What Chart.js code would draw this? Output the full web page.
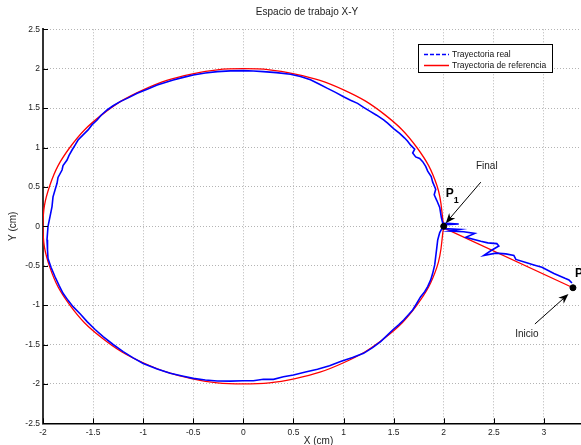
<!DOCTYPE html>
<html>
<head>
<meta charset="utf-8">
<script src="https://cdn.jsdelivr.net/npm/chart.js@4"></script>
<style>
  html, body { margin: 0; padding: 0; background: #fff; overflow: hidden; width: 581px; height: 445px; }
  canvas { display: block; }
</style>
</head>
<body>
<canvas id="myChart" width="599" height="452"></canvas>
<script>
// trayectoria real, empieza en P y termina en P1
const realX = [3.28, 3.25, 3.21, 3.10, 2.98, 2.90, 2.82, 2.72, 2.70, 2.62, 2.52, 2.40, 2.47, 2.55, 2.53, 2.44, 2.37, 2.22, 2.31, 2.20, 2.06, 2.16, 2.00, 2.02, 2.15, 1.99,
  1.975, 1.96, 1.93, 1.905, 1.92, 1.89, 1.875, 1.84, 1.82, 1.79, 1.76, 1.72, 1.69, 1.71, 1.67, 1.64, 1.61, 1.56, 1.50, 1.44, 1.40, 1.33, 1.27, 1.20, 1.14, 1.07, 1.00,
  0.92, 0.84, 0.75, 0.67, 0.57, 0.47, 0.33, 0.20, 0.10, 0.00, -0.13, -0.26, -0.38, -0.50, -0.60, -0.70, -0.86, -0.96, -1.06, -1.15, -1.23, -1.30, -1.36, -1.42,
  -1.46, -1.51, -1.55, -1.60, -1.65, -1.68, -1.71, -1.74, -1.76, -1.80, -1.81, -1.85, -1.86, -1.88, -1.90, -1.91, -1.93, -1.95, -1.96, -1.955, -1.95, -1.92,
  -1.88, -1.84, -1.80, -1.75, -1.70, -1.63, -1.56, -1.48, -1.40, -1.30, -1.20, -1.10, -1.00, -0.86, -0.73, -0.61, -0.50, -0.38, -0.26, -0.13, 0.00, 0.10,
  0.20, 0.30, 0.40, 0.50, 0.62, 0.74, 0.86, 0.97, 1.09, 1.20, 1.29, 1.37, 1.43, 1.49, 1.55, 1.60, 1.65, 1.69, 1.73, 1.77, 1.81, 1.84, 1.87, 1.89, 1.91, 1.92,
  1.93, 1.94, 1.96, 1.99]
const realY = [-0.72, -0.68, -0.66, -0.60, -0.52, -0.49, -0.46, -0.42, -0.37, -0.35, -0.34, -0.37, -0.31, -0.25, -0.22, -0.21, -0.19, -0.14, -0.09, -0.07, -0.06, -0.04, -0.03, 0.02, 0.03, 0.04,
  0.12, 0.24, 0.33, 0.40, 0.47, 0.56, 0.63, 0.70, 0.76, 0.82, 0.86, 0.88, 0.93, 0.98, 1.03, 1.08, 1.12, 1.18, 1.24, 1.31, 1.35, 1.41, 1.455, 1.51, 1.56, 1.60, 1.645,
  1.70, 1.75, 1.81, 1.86, 1.90, 1.93, 1.95, 1.963, 1.97, 1.976, 1.972, 1.963, 1.945, 1.921, 1.89, 1.857, 1.793, 1.74, 1.688, 1.63, 1.582, 1.53, 1.476, 1.41,
  1.349, 1.29, 1.223, 1.16, 1.095, 1.03, 0.968, 0.90, 0.841, 0.77, 0.714, 0.62, 0.545, 0.46, 0.374, 0.25, 0.122, 0.0, -0.17, -0.30, -0.41, -0.52,
  -0.64, -0.75, -0.85, -0.94, -1.02, -1.11, -1.21, -1.31, -1.40, -1.50, -1.59, -1.67, -1.74, -1.81, -1.866, -1.90, -1.93, -1.95, -1.963, -1.965, -1.96, -1.96,
  -1.942, -1.942, -1.91, -1.887, -1.85, -1.815, -1.77, -1.717, -1.665, -1.612, -1.54, -1.464, -1.39, -1.316, -1.25, -1.189, -1.12, -1.062, -0.98, -0.893, -0.83, -0.766, -0.68, -0.597, -0.49, -0.385,
  -0.28, -0.174, -0.08, -0.01]

// trayectoria de referencia: tramo recto P -> P1 y circulo de radio 2
const lineX = [3.29, 2.0]
const lineY = [-0.78, -0.02]
const refX = [2, 1.932, 1.732, 1.414, 1.0, 0.518, 0, -0.518, -1.0, -1.414, -1.732, -1.932, -2, -1.932, -1.732, -1.414, -1.0, -0.518, 0, 0.518, 1.0, 1.414, 1.732, 1.932, 2]
const refY = [0, 0.518, 1.0, 1.414, 1.732, 1.932, 2, 1.932, 1.732, 1.414, 1.0, 0.518, 0, -0.518, -1.0, -1.414, -1.732, -1.932, -2, -1.932, -1.732, -1.414, -1.0, -0.518, 0]

// puntos P1 (final) y P (inicio)
const markX = [2.0, 3.29]
const markY = [0.0, -0.78]

const xTickValues = [-2, -1.5, -1, -0.5, 0, 0.5, 1, 1.5, 2, 2.5, 3, 3.5]
const yTickValues = [-2.5, -2, -1.5, -1, -0.5, 0, 0.5, 1, 1.5, 2, 2.5]

// anotaciones: texto y flechas en coordenadas de datos
const arrowFrom = [[2.37, 0.56], [2.91, -1.24]]
const arrowTo = [[2.02, 0.04], [3.245, -0.86]]
const noteText = ['Final', 'Inicio']
const noteAt = [[2.43, 0.76], [2.83, -1.37]]

const BLUE = '#0000ff'
const RED = '#ff0000'

const pts = (xs, ys) => xs.map((v, i) => ({x: v, y: ys[i]}))

const FONT = 'Liberation Sans, Arial, Helvetica, sans-serif'

const extras = {
  id: 'extras',
  afterDraw(chart) {
    const {ctx, chartArea, scales: {x, y}} = chart
    ctx.save()

    // ticks hacia dentro (estilo matlab)
    ctx.strokeStyle = '#000'
    ctx.lineWidth = 1
    ctx.beginPath()
    xTickValues.forEach(v => {
      const px = Math.round(x.getPixelForValue(v)) + 0.5
      ctx.moveTo(px, chartArea.bottom)
      ctx.lineTo(px, chartArea.bottom - 5)
    })
    yTickValues.forEach(v => {
      const py = Math.round(y.getPixelForValue(v)) + 0.5
      ctx.moveTo(chartArea.left, py)
      ctx.lineTo(chartArea.left + 5, py)
    })
    ctx.stroke()

    // titulo
    ctx.fillStyle = '#222'
    ctx.font = '10px ' + FONT
    ctx.textAlign = 'center'
    ctx.textBaseline = 'middle'
    ctx.fillText('Espacio de trabajo X-Y', 307, 12)

    // flechas
    arrowFrom.forEach((f, i) => {
      const x0 = x.getPixelForValue(f[0]), y0 = y.getPixelForValue(f[1])
      const x1 = x.getPixelForValue(arrowTo[i][0]), y1 = y.getPixelForValue(arrowTo[i][1])
      const a = Math.atan2(y1 - y0, x1 - x0)
      ctx.strokeStyle = '#000'
      ctx.lineWidth = 1
      ctx.beginPath()
      ctx.moveTo(x0, y0)
      ctx.lineTo(x1 - 6 * Math.cos(a), y1 - 6 * Math.sin(a))
      ctx.stroke()
      ctx.fillStyle = '#000'
      ctx.beginPath()
      ctx.moveTo(x1, y1)
      ctx.lineTo(x1 - 10 * Math.cos(a) + 4 * Math.sin(a), y1 - 10 * Math.sin(a) - 4 * Math.cos(a))
      ctx.lineTo(x1 - 7 * Math.cos(a), y1 - 7 * Math.sin(a))
      ctx.lineTo(x1 - 10 * Math.cos(a) - 4 * Math.sin(a), y1 - 10 * Math.sin(a) + 4 * Math.cos(a))
      ctx.closePath()
      ctx.fill()
    })

    // textos
    ctx.fillStyle = '#222'
    ctx.font = '10px ' + FONT
    noteText.forEach((t, i) => {
      ctx.fillText(t, x.getPixelForValue(noteAt[i][0]), y.getPixelForValue(noteAt[i][1]))
    })

    ctx.fillStyle = '#000'
    ctx.textAlign = 'left'
    ctx.font = 'bold 12px ' + FONT
    const p1x = x.getPixelForValue(2.02), p1y = y.getPixelForValue(0.42)
    ctx.fillText('P', p1x, p1y)
    ctx.font = 'bold 9px ' + FONT
    ctx.fillText('1', p1x + 8, p1y + 7)
    ctx.font = 'bold 12px ' + FONT
    ctx.fillText('P', x.getPixelForValue(3.31), y.getPixelForValue(-0.60))

    // leyenda
    const lx = 418.5, ly = 44.5, lw = 134, lh = 28
    ctx.fillStyle = '#fff'
    ctx.fillRect(lx, ly, lw, lh)
    ctx.strokeStyle = '#000'
    ctx.lineWidth = 1
    ctx.strokeRect(lx, ly, lw, lh)
    const entries = [
      {label: chart.data.datasets[0].label, color: BLUE, dash: [4, 2], width: 1.6},
      {label: chart.data.datasets[1].label, color: RED, dash: [], width: 1.5}
    ]
    entries.forEach((e, i) => {
      const ry = 54.5 + i * 11
      ctx.strokeStyle = e.color
      ctx.lineWidth = e.width
      ctx.setLineDash(e.dash)
      ctx.beginPath()
      ctx.moveTo(424, ry)
      ctx.lineTo(449, ry)
      ctx.stroke()
      ctx.setLineDash([])
      ctx.fillStyle = '#111'
      ctx.font = '8.5px ' + FONT
      ctx.textAlign = 'left'
      ctx.fillText(e.label, 452, ry)
    })
    ctx.restore()
  }
}

new Chart(document.getElementById('myChart'), {
  type: 'scatter',
  data: {
    datasets: [
      {
        label: 'Trayectoria real',
        data: pts(realX, realY),
        showLine: true,
        borderColor: BLUE,
        borderWidth: 1.6,
        pointRadius: 0,
        tension: 0,
        order: 1
      },
      {
        label: 'Trayectoria de referencia',
        data: pts(refX, refY),
        showLine: true,
        borderColor: RED,
        borderWidth: 1.3,
        pointRadius: 0,
        tension: 0.4,
        order: 2
      },
      {
        label: 'ref tramo',
        data: pts(lineX, lineY),
        showLine: true,
        borderColor: RED,
        borderWidth: 1.3,
        pointRadius: 0,
        order: 2
      },
      {
        label: 'puntos',
        data: pts(markX, markY),
        showLine: false,
        pointRadius: 3,
        pointBackgroundColor: '#000',
        pointBorderColor: '#000',
        order: 0
      }
    ]
  },
  options: {
    responsive: false,
    devicePixelRatio: 1,
    animation: false,
    layout: { padding: { top: 29.3, right: 0, bottom: 0, left: 0 } },
    plugins: {
      legend: { display: false },
      title: { display: false },
      tooltip: { enabled: false }
    },
    scales: {
      x: {
        type: 'linear',
        min: -2,
        max: 3.5,
        afterBuildTicks: (scale) => { scale.ticks = xTickValues.map(v => ({value: v})) },
        afterFit: (scale) => { scale.height = 28.7 },
        grid: { color: '#b4b4b4', lineWidth: 1, drawTicks: false },
        border: { display: true, color: '#000', width: 1.5, dash: [1, 2] },
        ticks: {
          padding: 4,
          color: '#222',
          font: { family: FONT, size: 8.5 },
          maxRotation: 0,
          autoSkip: false,
          callback: (v) => v === 3.5 ? '' : String(v)
        },
        title: {
          display: true,
          text: 'X (cm)',
          color: '#222',
          font: { family: FONT, size: 10 },
          padding: { top: 0, bottom: 5 }
        }
      },
      y: {
        type: 'linear',
        min: -2.5,
        max: 2.5,
        afterBuildTicks: (scale) => { scale.ticks = yTickValues.map(v => ({value: v})) },
        afterFit: (scale) => { scale.width = 43 },
        grid: { color: '#b4b4b4', lineWidth: 1, drawTicks: false },
        border: { display: true, color: '#333', width: 2, dash: [1, 2] },
        ticks: {
          padding: 3,
          color: '#222',
          font: { family: FONT, size: 8.5 },
          autoSkip: false,
          callback: (v) => String(v)
        },
        title: {
          display: true,
          text: 'Y (cm)',
          color: '#222',
          font: { family: FONT, size: 10 },
          padding: { top: 7, bottom: 0 }
        }
      }
    }
  },
  plugins: [extras]
})
</script>
</body>
</html>
